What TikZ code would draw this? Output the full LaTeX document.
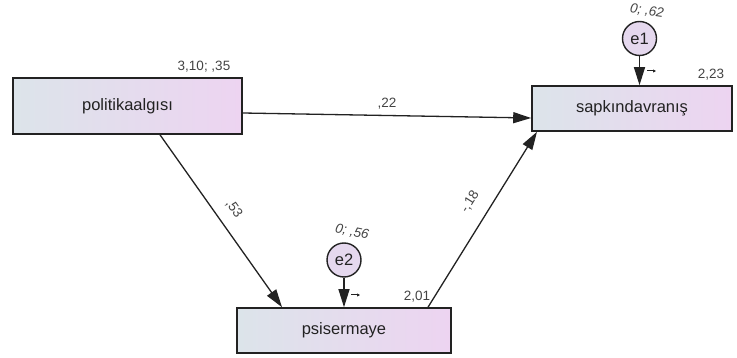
\documentclass[tikz,border=0pt]{standalone}
\usepackage{fontspec}
\setmainfont{Liberation Sans}
\usetikzlibrary{arrows.meta}
\definecolor{boxleft}{HTML}{DCE4EA}
\definecolor{boxright}{HTML}{EDD4F1}
\definecolor{errfill}{HTML}{E5D8EE}
\definecolor{ink}{HTML}{222222}
\begin{document}
\begin{tikzpicture}[x=1pt,y=-1pt,
  var/.style={draw=ink, line width=1.6pt, left color=boxleft, right color=boxright,
    font=\fontsize{16.5}{18}\selectfont, text=ink, inner sep=0pt},
  err/.style={circle, draw=ink, line width=1.4pt, fill=errfill, minimum size=34pt,
    inner sep=0pt, font=\fontsize{16.5}{18}\selectfont, text=ink},
  lab/.style={font=\fontsize{13.5}{15}\selectfont, text=ink!85, inner sep=0pt},
  ilab/.style={font=\fontsize{13.5}{15}\selectfont\itshape, text=ink!85, inner sep=0pt},
  path/.style={draw=ink, line width=1.3pt, -{Triangle[length=18pt,width=11pt]}},
  tick/.style={draw=ink, line width=1pt, -{Triangle[length=3pt,width=3pt]}}
]
\useasboundingbox (0,0) rectangle (737,358);
\node[var, minimum width=229pt, minimum height=56pt] (pol) at (127.5,106) {politikaalgısı};
\node[var, minimum width=200pt, minimum height=45pt] (sap) at (632,108.5) {sapkındavranış};
\node[var, minimum width=214pt, minimum height=45pt] (psi) at (344,330.5) {psisermaye};
\node[err] (e1) at (639.5,38.5) {e1};
\node[err] (e2) at (344,260) {e2};

\draw[path] ([yshift=-7pt]pol.east) -- ([yshift=-9.5pt]sap.west);
\draw[path] ([xshift=32.5pt]pol.south) -- ([xshift=-62pt]psi.north);
\draw[path] ([xshift=84pt]psi.north) -- ([xshift=-95pt]sap.south);
\draw[path] (e1) -- (e1 |- sap.north);
\draw[path] (e2) -- (e2 |- psi.north);

\coordinate (t1a) at (647,71);
\coordinate (t1b) at (656,71);
\draw[tick] (t1a) -- (t1b);
\coordinate (t2a) at (351,295);
\coordinate (t2b) at (360,295);
\draw[tick] (t2a) -- (t2b);

\node[lab] (l1) at (204,67) {3,10; ,35};
\node[lab] (l2) at (711,75) {2,23};
\node[lab] (l3) at (417,297) {2,01};
\node[ilab, rotate=-8] (l4) at (647,11) {0; ,62};
\node[ilab, rotate=-12] (l5) at (352,232) {0; ,56};
\node[lab] (l6) at (387,104) {,22};
\node[lab, rotate=-55] (l7) at (234,209) {,53};
\node[lab, rotate=58] (l8) at (470,202) {-,18};
\end{tikzpicture}
\end{document}
